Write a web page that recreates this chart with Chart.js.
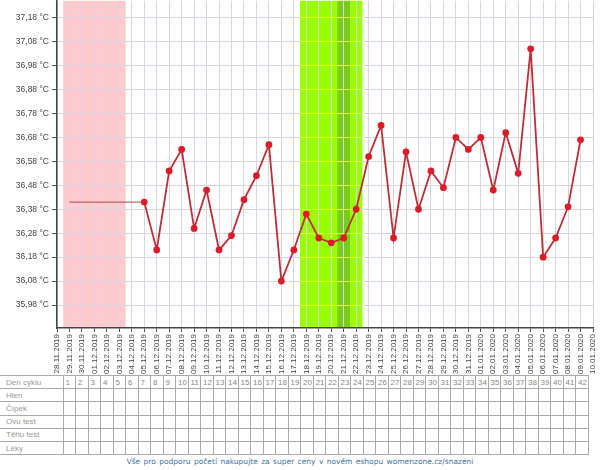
<!DOCTYPE html>
<html lang="cs">
<head>
<meta charset="UTF-8">
<title>Graf bazální teploty</title>
<script src="https://cdn.jsdelivr.net/npm/chart.js"></script>
<style>
    body { margin: 0; width: 600px; height: 470px; background: #fff; font-family: "Liberation Sans", Arial, sans-serif; position: relative; overflow: hidden; }
    #wrap { position: absolute; left: 0; top: -5px; width: 600px; height: 379px; }
    #cycleTable { position: absolute; left: 0; top: 375px; border-collapse: collapse; table-layout: fixed; font-size: 8px; color: #888; }
    #cycleTable td { height: 12.2px; padding: 0 0 0 2px; border: 1px solid #aaa; white-space: nowrap; overflow: hidden; line-height: 11px; }
    #cycleTable td.head { border-left: none; padding-left: 6px; color: #999; }
    #footer { position: absolute; left: 0; top: 457px; width: 600px; text-align: center; font-family: "DejaVu Sans", sans-serif; font-size: 7.5px; color: #3a72a8; word-spacing: 1px; }
</style>
</head>
<body>
<div id="wrap"><canvas id="bbtChart" width="600" height="379"></canvas></div>
<table id="cycleTable"></table>
<div id="footer">Vše pro podporu početí nakupujte za super ceny v novém eshopu womenzone.cz/snazeni</div>

<script>
const dates = ['28.11.2019','29.11.2019','30.11.2019','01.12.2019','02.12.2019','03.12.2019','04.12.2019',
    '05.12.2019','06.12.2019','07.12.2019','08.12.2019','09.12.2019','10.12.2019','11.12.2019','12.12.2019',
    '13.12.2019','14.12.2019','15.12.2019','16.12.2019','17.12.2019','18.12.2019','19.12.2019','20.12.2019',
    '21.12.2019','22.12.2019','23.12.2019','24.12.2019','25.12.2019','26.12.2019','27.12.2019','28.12.2019',
    '29.12.2019','30.12.2019','31.12.2019','01.01.2020','02.01.2020','03.01.2020','04.01.2020','05.01.2020',
    '06.01.2020','07.01.2020','08.01.2020','09.01.2020','10.01.2020'];

// naměřené teploty (null = nezměřeno)
const temps = [null, null, null, null, null, null, null,
    36.41, 36.21, 36.54, 36.63, 36.30, 36.46, 36.21, 36.27,
    36.42, 36.52, 36.65, 36.08, 36.21, 36.36, 36.26, 36.24,
    36.26, 36.38, 36.60, 36.73, 36.26, 36.62, 36.38, 36.54,
    36.47, 36.68, 36.63, 36.68, 36.46, 36.70, 36.53, 37.05,
    36.18, 36.26, 36.39, 36.67, null];

// pomocná čára na začátku cyklu
const baseLine = [null, 36.41, 36.41, 36.41, 36.41, 36.41, 36.41, 36.41, null, null, null, null, null, null, null,
    null, null, null, null, null, null, null, null, null, null, null, null, null, null, null, null,
    null, null, null, null, null, null, null, null, null, null, null, null, null];

const yTicks = [35.98, 36.08, 36.18, 36.28, 36.38, 36.48, 36.58, 36.68, 36.78, 36.88, 36.98, 37.08, 37.18];

const periodRange = ['29.11.2019', '03.12.2019'];
const fertileRange = ['18.12.2019', '22.12.2019'];
const ovulationDay = '21.12.2019';

const rowNames = ['Den cyklu', 'Hlen', 'Čípek', 'Ovu test', 'Těhu test', 'Léky'];
const cycleDays = [];
for (let i = 1; i <= 42; i++) cycleDays.push(i);

// barevné pásy pod mřížkou
const bandsPlugin = {
    id: 'bands',
    beforeDraw(chart) {
        const x = chart.scales.x, a = chart.chartArea, c = chart.ctx;
        const band = (from, to, color) => {
            const l = x.getPixelForValue(dates.indexOf(from)) - 6.25;
            const r = x.getPixelForValue(dates.indexOf(to)) + 6.25;
            c.fillStyle = color;
            c.fillRect(l, a.top, r - l, a.bottom - a.top);
        };
        c.save();
        band(periodRange[0], periodRange[1], '#ffc9cd');
        band(fertileRange[0], fertileRange[1], '#99ff00');
        band(ovulationDay, ovulationDay, '#77cc1c');
        c.restore();
    }
};

new Chart(document.getElementById('bbtChart'), {
    type: 'line',
    data: {
        labels: dates,
        datasets: [{
            data: temps,
            borderColor: '#bb3038',
            borderWidth: 1.8,
            pointBackgroundColor: '#dd1c28',
            pointBorderColor: '#dd1c28',
            pointRadius: 2.5,
            spanGaps: false,
            tension: 0
        }, {
            data: baseLine,
            borderColor: '#b04848',
            borderWidth: 1,
            pointRadius: 0,
            tension: 0
        }]
    },
    options: {
        responsive: false,
        animation: false,
        layout: { padding: { top: 0, right: 7, left: 0, bottom: 0 } },
        plugins: { legend: { display: false }, tooltip: { enabled: false } },
        scales: {
            x: {
                offset: false,
                grid: { color: '#d6d6de', tickColor: '#555', tickLength: 4 },
                border: { color: '#444', width: 1.5 },
                ticks: {
                    autoSkip: false, minRotation: 90, maxRotation: 90, padding: 2,
                    color: '#444', font: { family: 'Liberation Sans', size: 8 }
                },
                afterFit(s) { s.height = 46; s.paddingLeft = 0; s.paddingRight = 0; }
            },
            y: {
                min: 35.884,
                max: 37.2508,
                grid: { color: '#d6d6de', tickColor: '#555', tickLength: 5 },
                border: { color: '#444', width: 1.5 },
                ticks: {
                    padding: 3, color: '#444', font: { family: 'Liberation Sans', size: 8.5 },
                    callback: v => v.toFixed(2).replace('.', ',') + ' °C'
                },
                afterBuildTicks(s) { s.ticks = yTicks.map(v => ({ value: v })); },
                afterFit(s) { s.width = 57; s.paddingTop = 0; s.paddingBottom = 0; }
            }
        }
    },
    plugins: [bandsPlugin]
});

// tabulka pod grafem
const table = document.getElementById('cycleTable');
let html = '<colgroup><col style="width:63px">';
cycleDays.forEach(() => { html += '<col style="width:12.5px">'; });
html += '</colgroup>';
rowNames.forEach((name, r) => {
    html += '<tr><td class="head">' + name + '</td>';
    cycleDays.forEach(d => { html += '<td>' + (r === 0 ? d : '') + '</td>'; });
    html += '</tr>';
});
table.innerHTML = html;
</script>
</body>
</html>
